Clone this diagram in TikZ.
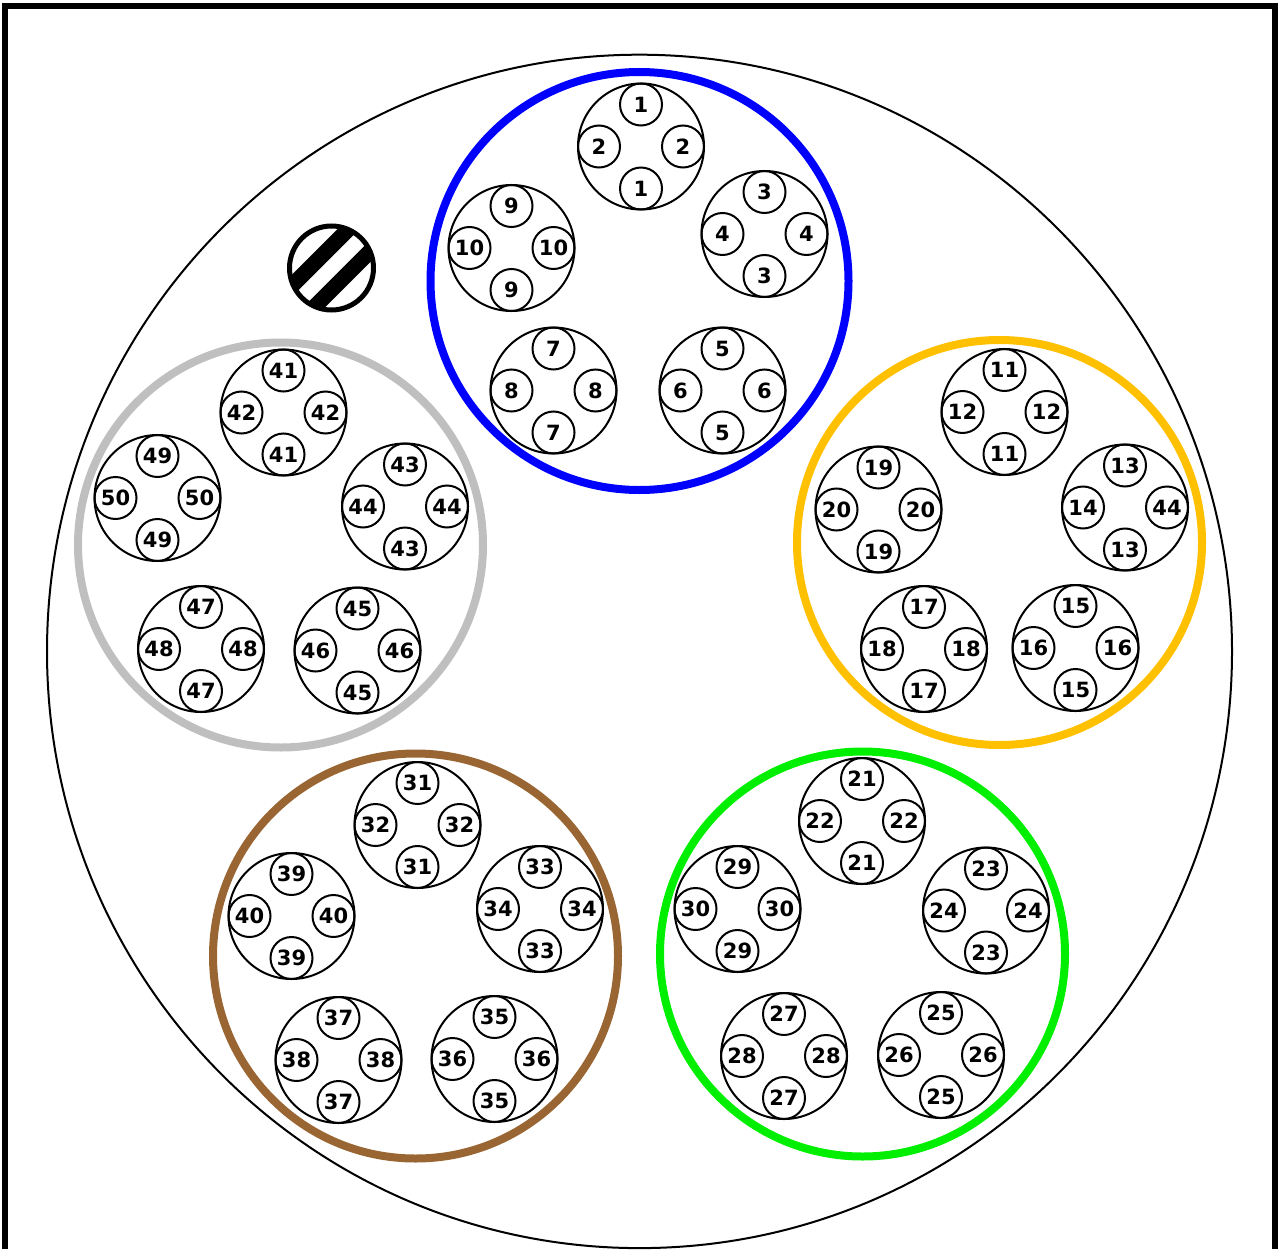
\documentclass[tikz,border=0pt]{standalone}
\usepackage{fontspec}
\setmainfont{DejaVu Sans}
\usetikzlibrary{positioning}
\definecolor{grpblue}{RGB}{0,0,255}
\definecolor{grporange}{RGB}{255,192,0}
\definecolor{grpgreen}{RGB}{0,238,0}
\definecolor{grpbrown}{RGB}{153,102,51}
\definecolor{grpgray}{RGB}{191,191,191}

\begin{document}
\begin{tikzpicture}[
    x=1pt, y=-1pt,
    group/.style={circle, draw, line width=8pt, inner sep=0pt},
    bundle/.style={circle, draw, line width=2pt, minimum size=126pt, inner sep=0pt},
    wire/.style={circle, draw, line width=2pt, minimum size=42pt, inner sep=0pt,
        font=\fontsize{21}{21}\selectfont\bfseries}
]
\useasboundingbox (0,0) rectangle (1281,1249);

% frame and cable sheath
\draw[line width=6pt] (5,1249) -- (5,6) -- (1275,6) -- (1275,1249);
\draw[line width=2pt] (639.5,651.4) ellipse [x radius=592.5, y radius=596.7];

% striped marker
\begin{scope}[shift={(331.5,268)}, rotate=45]
  \clip (0,0) circle (42);
  \draw[line width=15.5pt] (-50,15.5) -- (50,15.5) (-50,-15.5) -- (50,-15.5);
\end{scope}
\draw[line width=5pt] (331.5,268) circle (42);

% groups
\foreach \g/\x/\y/\sz in {blue/639.5/281/418, orange/999.5/542.5/405,
    green/862.5/954/405, brown/415.5/956/405, gray/280.5/545/405}
  \node[group, draw=grp\g, minimum size=\sz pt] (g\g) at (\x,\y) {};

% bundles: end label / left label / right label / position
\foreach \a/\b/\c/\x/\y in {
    1/2/2/641/146.5, 3/4/4/764.5/234, 5/6/6/722.5/390.5, 7/8/8/553.5/390.5, 9/10/10/511.5/248,
    11/12/12/1004.5/412, 13/14/44/1125/507.5, 15/16/16/1075.5/648, 17/18/18/924/649, 19/20/20/878.5/509.5,
    21/22/22/862/821, 23/24/24/986/910.5, 25/26/26/941/1055, 27/28/28/784/1056, 29/30/30/737.5/909,
    31/32/32/417.5/825, 33/34/34/540/909, 35/36/36/494.5/1059, 37/38/38/338.5/1060, 39/40/40/291.5/916,
    41/42/42/283.5/412.5, 43/44/44/405/506.5, 45/46/46/357.5/650.5, 47/48/48/201/649, 49/50/50/157.5/498}{
  \node[bundle] (w\a) at (\x,\y) {};
  \node[wire] (w\a t) at ([yshift=42pt]w\a.center) {\a};
  \node[wire] (w\a b) at ([yshift=-42pt]w\a.center) {\a};
  \node[wire] (w\a l) at ([xshift=-42pt]w\a.center) {\b};
  \node[wire] (w\a r) at ([xshift=42pt]w\a.center) {\c};
}
\end{tikzpicture}
\end{document}
